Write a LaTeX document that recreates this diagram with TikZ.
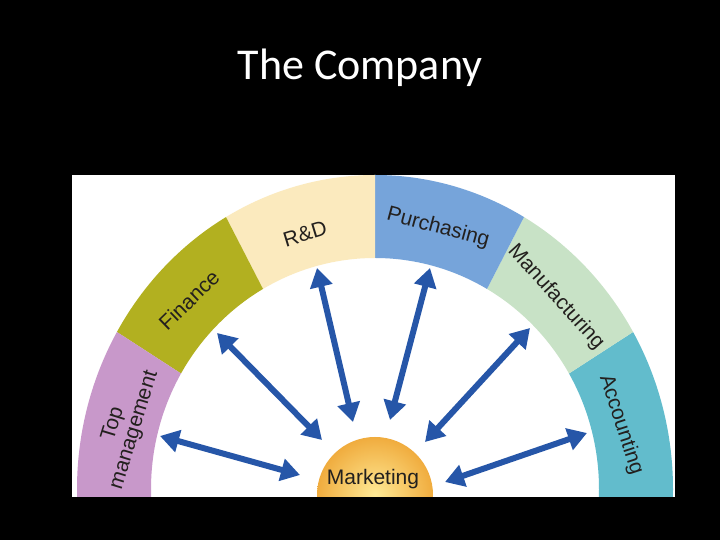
\documentclass[tikz,border=0pt]{standalone}
\usepackage{fontspec}
\setmainfont{Liberation Sans}
\newfontfamily\titlefont{Carlito}
\usetikzlibrary{calc,arrows.meta}
\definecolor{topc}{RGB}{200,152,202}
\definecolor{finc}{RGB}{178,176,32}
\definecolor{rdc}{RGB}{251,234,190}
\definecolor{purc}{RGB}{118,164,218}
\definecolor{manc}{RGB}{200,226,198}
\definecolor{accc}{RGB}{98,188,204}
\definecolor{arrc}{RGB}{38,86,168}
\definecolor{mkin}{RGB}{255,234,150}
\definecolor{mkout}{RGB}{240,172,62}
\definecolor{txtc}{RGB}{35,32,30}
\begin{document}
\begin{tikzpicture}[x=1pt,y=1pt,
  seglabel/.style={text=txtc,font=\fontsize{21}{22}\selectfont,inner sep=0pt},
  link/.style={arrc,line width=6pt,{Triangle[width=22pt,length=19pt]}-{Triangle[width=22pt,length=19pt]},shorten <=0pt,shorten >=0pt}]
\useasboundingbox (0,0) rectangle (720,540);
\fill[black] (0,0) rectangle (720,540);
\node[text=white,font=\titlefont\fontsize{44}{48}\selectfont,inner sep=0pt] (title) at (360,472) {The Company};
\fill[white] (72,43) rectangle (675,365);
\begin{scope}
\clip (72,43) rectangle (675,365);
\begin{scope}[shift={(375,51)}]
\newcommand{\ringseg}[3]{%
  \fill[#3] (#1:298 and 314) arc[start angle=#1,end angle=#2,x radius=298,y radius=314]
    -- (#2:224 and 231) arc[start angle=#2,end angle=#1,x radius=224,y radius=231] -- cycle;}
\ringseg{-12}{30}{accc}
\ringseg{30}{60}{manc}
\ringseg{60}{90}{purc}
\ringseg{90}{120}{rdc}
\ringseg{120}{150}{finc}
\ringseg{150}{192}{topc}
\end{scope}
\shade[inner color=mkin,outer color=mkout] (375,45) circle (58);
\end{scope}
\node[seglabel,rotate=-72] (acc) at (621,115) {Accounting};
\node[seglabel,rotate=-48] (man) at (556,243) {Manufacturing};
\node[seglabel,rotate=-15] (pur) at (438,312) {Purchasing};
\node[seglabel,rotate=17] (rd) at (305,306) {R\&D};
\node[seglabel,rotate=44] (fin) at (189,240) {Finance};
\node[seglabel,rotate=73,align=center] (top) at (124,113) {Top\\management};
\node[seglabel,anchor=base] (mkt) at (373,55) {Marketing};
\coordinate (t1) at (160,104); \coordinate (m1) at (300,65);
\coordinate (t2) at (217,207); \coordinate (m2) at (322,100);
\coordinate (t3) at (317,272); \coordinate (m3) at (353,118);
\coordinate (t4) at (430,272); \coordinate (m4) at (390,120);
\coordinate (t5) at (530,212); \coordinate (m5) at (425,98);
\coordinate (t6) at (587,107); \coordinate (m6) at (445,58);
\foreach \i in {1,...,6}{\draw[link] (t\i) -- (m\i);}
\end{tikzpicture}
\end{document}
